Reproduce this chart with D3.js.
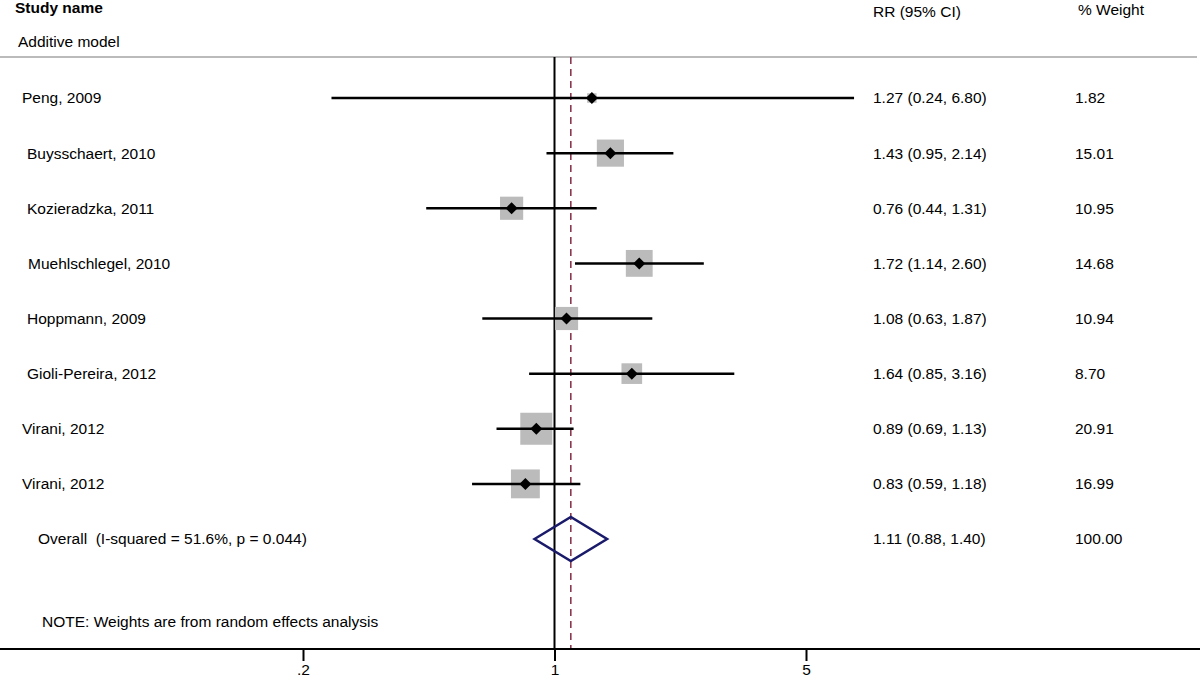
<!DOCTYPE html>
<html><head><meta charset="utf-8">
<script src="https://cdn.jsdelivr.net/npm/d3@7"></script>
<style>body{margin:0;background:#fff}svg{display:block}text{font-family:"Liberation Sans",Arial,Helvetica,sans-serif;font-size:15.5px;fill:#000;white-space:pre}</style>
</head><body><svg id="c" width="1200" height="682"></svg>
<script>
const studies = ["Peng, 2009","Buysschaert, 2010","Kozieradzka, 2011","Muehlschlegel, 2010","Hoppmann, 2009","Gioli-Pereira, 2012","Virani, 2012","Virani, 2012"];
const rr =    [1.27,1.43,0.76,1.72,1.08,1.64,0.89,0.83];
const lower = [0.24,0.95,0.44,1.14,0.63,0.85,0.69,0.59];
const upper = [6.80,2.14,1.31,2.60,1.87,3.16,1.13,1.18];
const weight = [1.82,15.01,10.95,14.68,10.94,8.70,20.91,16.99];
const rrLabels = ["1.27 (0.24, 6.80)","1.43 (0.95, 2.14)","0.76 (0.44, 1.31)","1.72 (1.14, 2.60)","1.08 (0.63, 1.87)","1.64 (0.85, 3.16)","0.89 (0.69, 1.13)","0.83 (0.59, 1.18)"];
const weightLabels = ["1.82","15.01","10.95","14.68","10.94","8.70","20.91","16.99"];
const overall = {rr:1.11, lower:0.88, upper:1.40, label:"1.11 (0.88, 1.40)", weight:"100.00", name:"Overall  (I-squared = 51.6%, p = 0.044)"};
const tickValues = [0.2,1,5];
const tickLabels = [".2","1","5"];

const svg = d3.select("#c");
const x = d3.scaleLog().domain([0.2,5]).range([303,806]);
const rowIdx = d3.range(studies.length+1);
const y = d3.scalePoint().domain(rowIdx).range([98,539]);
const labelX = [22,27,27,28,27,27,22,22];

// header
svg.append("text").attr("x",15).attr("y",13).attr("font-weight","bold").text("Study name");
svg.append("text").attr("x",18).attr("y",47).text("Additive model");
svg.append("text").attr("x",873).attr("y",17).text("RR (95% CI)");
svg.append("text").attr("x",1078).attr("y",15).text("% Weight");
svg.append("line").attr("x1",0).attr("x2",1197).attr("y1",57).attr("y2",57).attr("stroke","#bbb").attr("stroke-width",2);

// reference lines
const axisY = 649;
svg.append("line").attr("x1",x(1)).attr("x2",x(1)).attr("y1",57).attr("y2",axisY).attr("stroke","#000").attr("stroke-width",2);
svg.append("line").attr("x1",x(overall.rr)).attr("x2",x(overall.rr)).attr("y1",57).attr("y2",axisY).attr("stroke","#8a3a4e").attr("stroke-width",1.6).attr("stroke-dasharray","7,5");

// squares
const g = svg.append("g");
studies.forEach((s,i)=>{
  const side = 7*Math.sqrt(weight[i]);
  g.append("rect").attr("x",x(rr[i])-side/2).attr("y",y(i)-side/2).attr("width",side).attr("height",side).attr("fill","#bbbbbb");
});
studies.forEach((s,i)=>{
  g.append("line").attr("x1",x(lower[i])).attr("x2",x(upper[i])).attr("y1",y(i)).attr("y2",y(i)).attr("stroke","#000").attr("stroke-width",2.5);
  const cx=x(rr[i]), cy=y(i), d=6;
  g.append("path").attr("d",`M${cx},${cy-d}L${cx+d},${cy}L${cx},${cy+d}L${cx-d},${cy}Z`).attr("fill","#000");
  svg.append("text").attr("x",labelX[i]).attr("y",y(i)).attr("dy","0.35em").text(s);
  svg.append("text").attr("x",873).attr("y",y(i)).attr("dy","0.35em").text(rrLabels[i]);
  svg.append("text").attr("x",1075).attr("y",y(i)).attr("dy","0.35em").text(weightLabels[i]);
});
// overall diamond
const oy = y(studies.length);
svg.append("path").attr("d",`M${x(overall.lower)},${oy}L${x(overall.rr)},${oy-22}L${x(overall.upper)},${oy}L${x(overall.rr)},${oy+22}Z`)
  .attr("fill","none").attr("stroke","#1a1a6b").attr("stroke-width",2.5);
svg.append("text").attr("x",38).attr("y",oy).attr("dy","0.35em").text(overall.name);
svg.append("text").attr("x",873).attr("y",oy).attr("dy","0.35em").text(overall.label);
svg.append("text").attr("x",1075).attr("y",oy).attr("dy","0.35em").text(overall.weight);

svg.append("text").attr("x",42).attr("y",622).attr("dy","0.35em").text("NOTE: Weights are from random effects analysis");

// axis
svg.append("line").attr("x1",0).attr("x2",1200).attr("y1",axisY).attr("y2",axisY).attr("stroke","#000").attr("stroke-width",2);
const ax = d3.axisBottom(x).tickValues(tickValues).tickFormat((d,i)=>tickLabels[i]).tickSize(12).tickPadding(3);
const axg = svg.append("g").attr("transform",`translate(0,${axisY})`).call(ax);
axg.select(".domain").remove();
axg.selectAll(".tick line").attr("stroke","#000").attr("stroke-width",2);
axg.selectAll(".tick text").attr("font-size",15.5).attr("font-family","Liberation Sans, Arial, sans-serif").attr("fill","#000");
</script></body></html>
